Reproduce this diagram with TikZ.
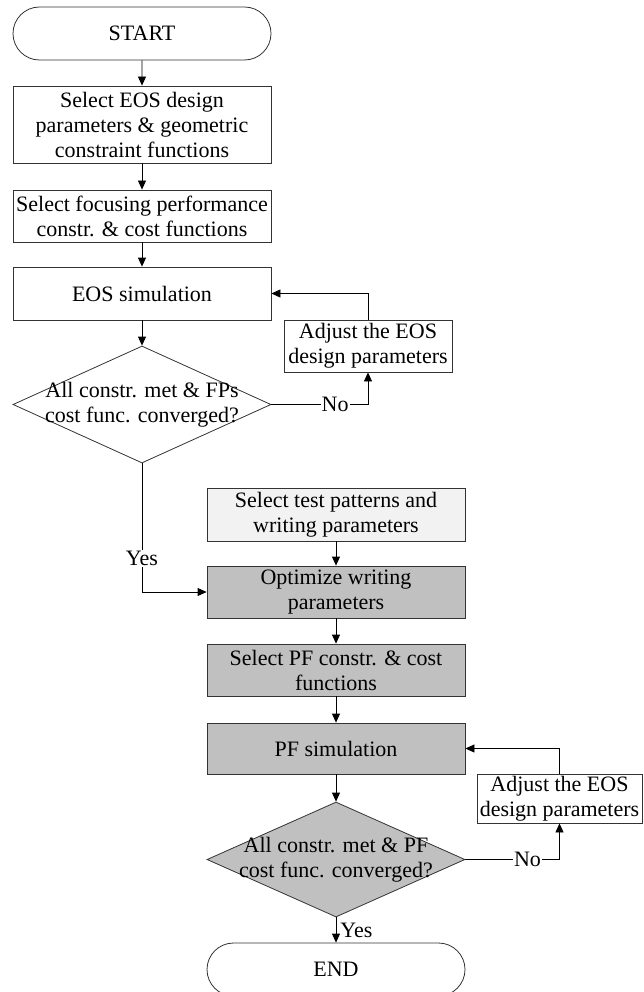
\documentclass[tikz,border=0pt]{standalone}
\usepackage{fontspec}
\setmainfont{Liberation Serif}
\usepackage{tikz}
\usetikzlibrary{shapes.geometric, shapes.misc, arrows.meta, positioning}
\definecolor{boxline}{HTML}{333333}
\definecolor{pfgray}{HTML}{C0C0C0}
\definecolor{testgray}{HTML}{F2F2F2}

\begin{document}
\begin{tikzpicture}[x=1pt, y=-1pt,
  every node/.style={font=\fontsize{22}{25}\selectfont},
  term/.style={draw=boxline, line width=0.8pt, rounded rectangle, minimum width=258pt, minimum height=53pt, inner sep=0pt},
  proc/.style={draw=boxline, line width=0.8pt, rectangle, minimum width=258pt, inner sep=0pt, align=center},
  adjust/.style={draw=boxline, line width=0.8pt, rectangle, minimum width=168pt, minimum height=52pt, inner sep=0pt, align=center},
  decision/.style={draw=boxline, line width=0.8pt, diamond, minimum width=258pt, minimum height=117pt, inner sep=0pt},
  flow/.style={draw=black, line width=0.8pt, -{Triangle[length=9pt,width=8pt]}},
  lbl/.style={fill=white, inner sep=1pt}
]
\useasboundingbox (0,0) rectangle (644,992);

% EOS part
\node[term] (start) at (142,33.5) {START};
\node[proc, minimum height=77pt] (eospar) at (142,124.5) {Select EOS design\\parameters \& geometric\\constraint functions};
\node[proc, minimum height=52pt] (fpcost) at (142,216) {Select focusing performance\\constr. \& cost functions};
\node[proc, minimum height=53pt] (eossim) at (142,293.5) {EOS simulation};
\node[decision, label={[align=center]center:{All constr. met \& FPs\\cost func. converged?}}] (fpconv) at (142,404.5) {};
\node[adjust] (adj1) at (368,346) {Adjust the EOS\\design parameters};

% PF part
\node[proc, fill=testgray, minimum height=53pt] (testpat) at (336,514.5) {Select test patterns and\\writing parameters};
\node[proc, fill=pfgray, minimum height=52pt] (optwr) at (336,592) {Optimize writing\\parameters};
\node[proc, fill=pfgray, minimum height=52pt] (pfcost) at (336,670) {Select PF constr. \& cost\\functions};
\node[proc, fill=pfgray, minimum height=51pt] (pfsim) at (336,748.5) {PF simulation};
\node[decision, fill=pfgray, minimum height=115pt, label={[align=center]center:{All constr. met \& PF\\cost func. converged?}}] (pfconv) at (336,859.5) {};
\node[adjust, minimum width=165pt, minimum height=49pt] (adj2) at (559.5,798.5) {Adjust the EOS\\design parameters};
\node[term] (end) at (336,969.5) {END};

% connectors
\foreach \a/\b in {start/eospar, eospar/fpcost, fpcost/eossim, eossim/fpconv,
                   testpat/optwr, optwr/pfcost, pfcost/pfsim, pfsim/pfconv}
  \draw[flow] (\a) -- (\b);

\draw[flow] (fpconv.east) -| node[lbl, pos=0.33] {No} (adj1.south);
\draw[flow] (adj1.north) |- (eossim.east);
\draw[flow] (fpconv.south) |- node[lbl, pos=0.37] {Yes} (optwr.west);

\draw[flow] (pfconv.east) -| node[lbl, pos=0.33] {No} (adj2.south);
\draw[flow] (adj2.north) |- (pfsim.east);
\draw[flow] (pfconv.south) -- node[right, inner sep=4pt] {Yes} (end.north);
\end{tikzpicture}
\end{document}
